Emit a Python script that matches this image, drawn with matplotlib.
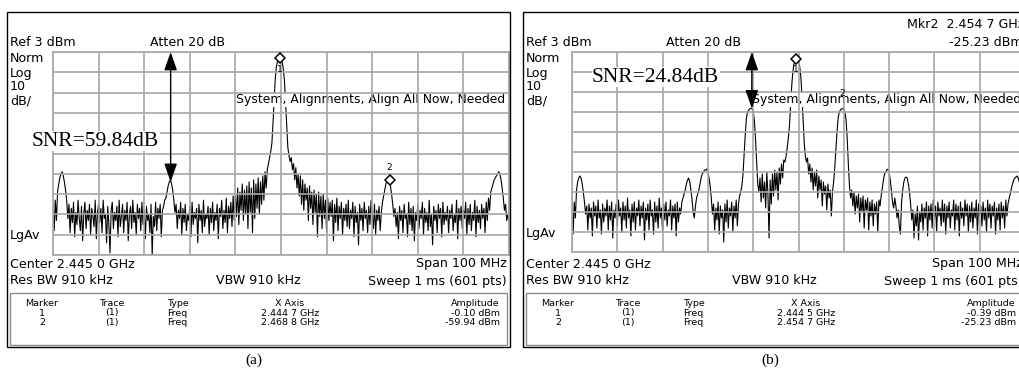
import numpy as np
import matplotlib.pyplot as plt
from matplotlib.patches import Rectangle

W, H = 1019, 369

center_ghz = 2.445
span_ghz = 0.100
ref_dbm = 3
db_per_div = 10

# trace (a), 0.25 MHz steps from 2.395 GHz to 2.495 GHz (dBm)
trace_a = [
    -73, -85, -70, -80, -66, -62, -59, -57, -56, -58, -61, -65, -70, -79, -72, -86, -74, -81, -71, -88,
    -76, -82, -70, -79, -85, -73, -90, -77, -71, -84, -75, -80, -72, -87, -74, -78, -83, -70, -89, -76,
    -72, -81, -74, -86, -70, -79, -77, -91, -73, -82, -96, -75, -71, -84, -76, -80, -73, -88, -70, -83,
    -78, -72, -86, -75, -80, -71, -90, -77, -73, -84, -70, -81, -76, -87, -72, -79, -74, -85, -71, -82,
    -75, -89, -73, -80, -77, -86, -72, -97, -78, -83, -71, -85, -74, -79, -72, -88, -75, -73, -70, -69,
    -66, -63, -61, -60, -62, -65, -70, -76, -72, -84, -75, -79, -71, -87, -74, -81, -72, -85, -77, -80,
    -73, -88, -71, -82, -76, -79, -74, -91, -72, -80, -75, -86, -70, -83, -77, -79, -73, -87, -74, -81,
    -71, -85, -76, -80, -72, -89, -74, -78, -70, -84, -75, -81, -69, -86, -73, -79, -71, -83, -68, -80,
    -67, -78, -64, -82, -66, -75, -62, -80, -65, -77, -63, -84, -61, -76, -64, -86, -60, -79, -62, -74,
    -59, -77, -61, -72, -58, -70, -56, -64, -55, -52, -49, -46, -42, -32, -20, -10, -4, -1.5, -0.5, -0.1,
    -0.6, -2, -5, -11, -22, -34, -44, -48, -51, -49, -55, -52, -60, -54, -64, -57, -68, -58, -72, -60,
    -75, -62, -70, -64, -80, -63, -74, -66, -82, -65, -76, -67, -88, -66, -78, -68, -84, -67, -79, -70,
    -86, -69, -80, -71, -78, -70, -90, -72, -81, -69, -85, -73, -79, -71, -87, -74, -80, -72, -83, -70,
    -84, -75, -79, -71, -88, -73, -81, -76, -92, -72, -80, -74, -85, -71, -79, -75, -86, -73, -82, -70,
    -78, -84, -72, -87, -75, -80, -73, -85, -76, -71, -68, -65, -62, -60, -59.9, -60, -63, -67, -72, -78,
    -74, -83, -76, -89, -73, -80, -75, -86, -72, -79, -77, -88, -71, -82, -74, -85, -73, -90, -76, -80,
    -72, -84, -75, -79, -71, -87, -74, -81, -76, -85, -70, -83, -77, -92, -73, -80, -75, -86, -72, -79,
    -74, -88, -71, -82, -76, -80, -73, -86, -75, -79, -72, -85, -77, -81, -70, -89, -74, -80, -73, -84,
    -75, -79, -71, -87, -74, -82, -72, -85, -76, -80, -70, -88, -73, -81, -75, -84, -72, -79, -74, -86,
    -71, -80, -69, -75, -66, -64, -62, -60, -59, -58, -57, -56, -57, -60, -64, -69, -75, -72, -80, -77,
    -82,
]

# trace (b)
trace_b = [
    -70, -88, -72, -80, -66, -62, -60, -59, -60, -63, -67, -72, -78, -74, -86, -73, -80, -75, -89, -72,
    -79, -74, -85, -71, -80, -76, -88, -73, -82, -75, -79, -71, -86, -74, -81, -72, -90, -76, -80, -73,
    -84, -71, -79, -75, -87, -72, -81, -74, -85, -70, -80, -76, -89, -73, -82, -72, -86, -75, -79, -71,
    -84, -74, -80, -72, -91, -75, -81, -73, -86, -71, -79, -76, -88, -72, -82, -74, -85, -70, -80, -75,
    -87, -73, -81, -72, -84, -76, -79, -71, -86, -74, -80, -73, -89, -72, -82, -75, -78, -72, -70, -68,
    -66, -63, -61, -60, -62, -66, -71, -77, -80, -74, -70, -68, -66, -63, -60, -58, -57, -56, -56, -55.5,
    -57, -60, -64, -70, -78, -73, -86, -75, -81, -72, -88, -74, -80, -76, -92, -73, -82, -71, -85, -75,
    -79, -72, -87, -74, -80, -71, -84, -73, -69, -67, -64, -58, -48, -38, -30, -27, -26, -25.5, -25, -25.3,
    -27, -31, -40, -52, -63, -67, -60, -72, -58, -70, -62, -75, -57, -68, -90, -61, -73, -58, -69, -56,
    -66, -57, -71, -55, -63, -53, -60, -51, -52, -49, -45, -40, -34, -24, -14, -7, -3, -1.2, -0.4, -0.6,
    -1.5, -4, -9, -18, -30, -42, -49, -52, -50, -58, -53, -62, -55, -66, -57, -64, -56, -70, -59, -66,
    -61, -74, -62, -68, -64, -76, -63, -70, -66, -79, -67, -62, -55, -46, -37, -30, -27, -26, -25.5, -25.2,
    -25.6, -27, -31, -40, -53, -64, -70, -66, -74, -67, -78, -69, -75, -68, -82, -70, -77, -69, -85, -71,
    -76, -70, -86, -72, -79, -71, -84, -73, -78, -72, -87, -71, -74, -69, -65, -61, -58, -57, -56, -55.5,
    -57, -61, -66, -72, -75, -70, -74, -80, -76, -84, -88, -72, -66, -62, -60, -59.5, -60, -63, -67, -73,
    -81, -76, -90, -78, -84, -74, -91, -77, -82, -73, -86, -75, -80, -72, -89, -74, -81, -73, -85, -71,
    -80, -74, -87, -72, -79, -75, -84, -71, -82, -73, -88, -74, -80, -72, -85, -76, -79, -71, -86, -73,
    -81, -74, -89, -72, -80, -75, -84, -71, -79, -73, -87, -74, -82, -72, -85, -75, -80, -71, -88, -73,
    -79, -74, -84, -72, -81, -75, -87, -71, -80, -73, -85, -74, -79, -72, -88, -75, -81, -73, -86, -72,
    -80, -74, -85, -71, -79, -73, -70, -68, -65, -63, -61, -60, -59.5, -59, -60, -62, -65, -69, -73, -78,
    -82,
]

mkr_a_freq = [2.4447, 2.4688]
mkr_a_amp = [-0.10, -59.94]
mkr_b_freq = [2.4445, 2.4547]
mkr_b_amp = [-0.39, -25.23]

snr_a = ("SNR=59.84dB", 2.4208, -61)
snr_b = ("SNR=24.84dB", 2.4347, -25.2)

table_a = [("1", "(1)", "Freq", "2.444 7 GHz", "-0.10 dBm"),
           ("2", "(1)", "Freq", "2.468 8 GHz", "-59.94 dBm")]
table_b = [("1", "(1)", "Freq", "2.444 5 GHz", "-0.39 dBm"),
           ("2", "(1)", "Freq", "2.454 7 GHz", "-25.23 dBm")]

fig = plt.figure(figsize=(W / 100, H / 100), dpi=100)
fig.patch.set_facecolor('white')

MONO = 'DejaVu Sans'
GRID = '#a6a6a6'
FS = 9.1


def fx(x):
    return x / W


def fy(y):
    return 1 - y / H


def txt(x, y, s, size=FS, ha='left', family=MONO, **kw):
    return fig.text(fx(x), fy(y), s, fontsize=size, ha=ha, va='center', family=family, **kw)


def panel(dx, ax_rect, trace, mkr_f, mkr_a, snr, table, label, mkr_style):
    # outer box and marker table box
    fig.add_artist(Rectangle((fx(7 + dx), fy(347)), 503 / W, 335 / H, transform=fig.transFigure,
                             fill=False, ec='black', lw=1.0))
    fig.add_artist(Rectangle((fx(10 + dx), fy(345)), 497 / W, 52 / H, transform=fig.transFigure,
                             fill=False, ec='#8c8c8c', lw=1.0))

    l, t, w, h = ax_rect
    ax = fig.add_axes([fx(l), fy(t + h), w / W, h / H])
    f0 = center_ghz - span_ghz / 2
    f1 = center_ghz + span_ghz / 2
    ax.set_xlim(f0, f1)
    ax.set_ylim(ref_dbm - 10 * db_per_div, ref_dbm)
    ax.set_xticks(np.linspace(f0, f1, 11))
    ax.set_yticks(np.linspace(ref_dbm - 10 * db_per_div, ref_dbm, 11))
    ax.tick_params(length=0, labelbottom=False, labelleft=False)
    ax.set_axisbelow(False)
    ax.grid(True, color=GRID, lw=1.2)
    for s in ax.spines.values():
        s.set_color(GRID)
        s.set_linewidth(1.2)
    ax.set_facecolor('none')

    freq = np.linspace(f0, f1, len(trace))
    ax.plot(freq, trace, color='black', lw=0.8, zorder=2)

    for i, (f, a) in enumerate(zip(mkr_f, mkr_a)):
        above, diamond = mkr_style[i]
        if diamond:
            ax.plot(f, a, ls='none', marker='D', ms=5, mfc='white', mec='black', mew=1.1,
                    clip_on=False, zorder=5)
        off = (9 if diamond else 11) if above else -8
        ax.annotate(str(i + 1), (f, a), xytext=(0, off), textcoords='offset points',
                    ha='center', va='center', fontsize=6.5, family=MONO, annotation_clip=False,
                    zorder=5)

    s, fa, amp = snr
    ax.annotate('', xy=(fa, ref_dbm), xytext=(fa, amp),
                arrowprops=dict(arrowstyle='<|-|>,head_length=0.8,head_width=0.28', color='black',
                                lw=1.0, mutation_scale=14, shrinkA=0, shrinkB=0),
                annotation_clip=False, zorder=4)

    # instrument message: hides the trace, grid still shows through
    ax.text(fx(236 + dx), fy(100), "System, Alignments, Align All Now, Needed",
            transform=fig.transFigure, fontsize=8.95, family=MONO, ha='left', va='center',
            bbox=dict(fc='white', ec='none', pad=0.4), zorder=2.2)

    txt(10 + dx, 43, "Ref 3 dBm")
    txt(150 + dx, 43, "Atten 20 dB")
    txt(10 + dx, 58, "Norm")
    txt(10 + dx, 73, "Log")
    txt(10 + dx, 87, "10")
    txt(10 + dx, 101, "dB/")
    txt(10 + dx, t + h - 19, "LgAv")
    txt(10 + dx, 264, "Center 2.445 0 GHz")
    txt(507 + dx, 264, "Span 100 MHz", ha='right')
    txt(10 + dx, 281, "Res BW 910 kHz")
    txt(216 + dx, 281, "VBW 910 kHz")
    txt(507 + dx, 281, "Sweep 1 ms (601 pts)", ha='right')

    ts = 6.8
    txt(42 + dx, 303, "Marker", ts, ha='center')
    txt(112 + dx, 303, "Trace", ts, ha='center')
    txt(167 + dx, 303, "Type", ts)
    txt(290 + dx, 303, "X Axis", ts, ha='center')
    txt(500 + dx, 303, "Amplitude", ts, ha='right')
    for r, row in enumerate(table):
        y = 313 + 9.5 * r
        txt(42 + dx, y, row[0], ts, ha='center')
        txt(112 + dx, y, row[1], ts, ha='center')
        txt(167 + dx, y, row[2], ts)
        txt(290 + dx, y, row[3], ts, ha='center')
        txt(500 + dx, y, row[4], ts, ha='right')

    txt(254 + dx, 360, label, 11, ha='center', family='Liberation Serif')
    return ax


panel(0, (53, 52, 456, 203), trace_a, mkr_a_freq, mkr_a_amp, snr_a, table_a, "(a)",
      [(False, True), (True, True)])
panel(516, (572, 52, 453, 200), trace_b, mkr_b_freq, mkr_b_amp, snr_b, table_b, "(b)",
      [(False, True), (True, False)])

txt(32, 141, snr_a[0], 15.5, family='Liberation Serif',
    bbox=dict(fc='white', ec='none', pad=0.3), zorder=6)
txt(592, 77, snr_b[0], 15.5, family='Liberation Serif',
    bbox=dict(fc='white', ec='none', pad=0.3), zorder=6)

txt(907, 25, "Mkr2  2.454 7 GHz")
txt(1023, 43, "-25.23 dBm", ha='right')

fig.savefig("out.png", dpi=100)
